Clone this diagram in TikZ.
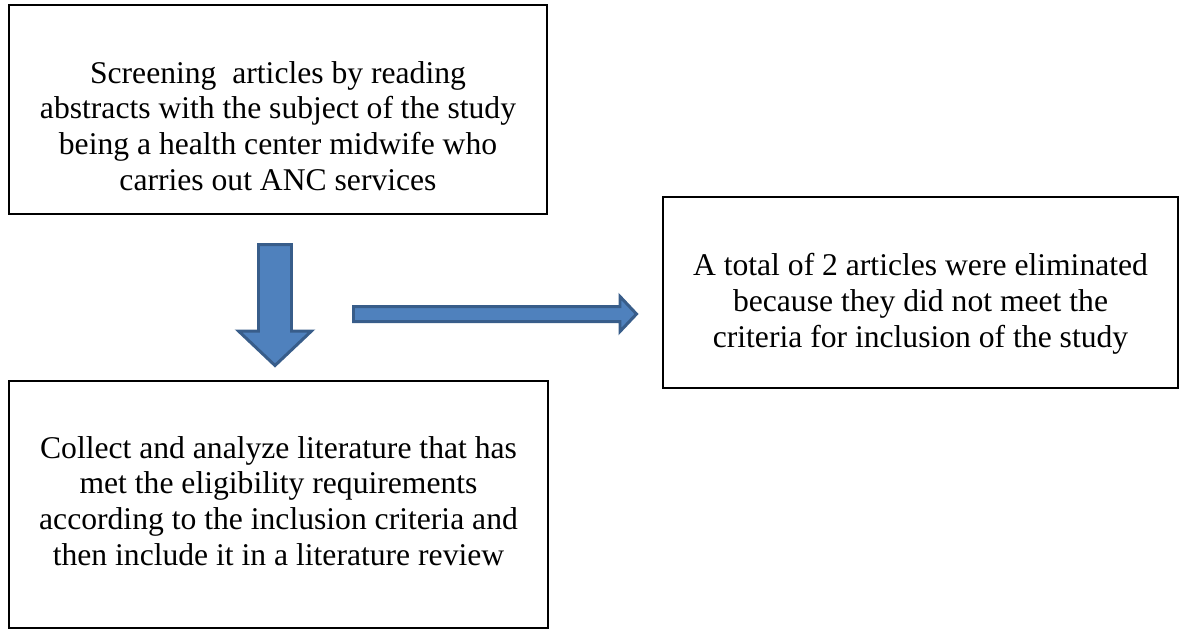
\documentclass[tikz,border=0pt]{standalone}
\usepackage{fontspec}
\setmainfont{Liberation Serif}
\usepackage{xcolor}
\definecolor{arrowfill}{HTML}{4F81BD}
\definecolor{arrowline}{HTML}{385D8A}

\tikzset{
  stepbox/.style={draw, line width=1.1pt, rectangle, inner sep=0pt},
  boxtext/.style={align=center, inner sep=0pt, anchor=base,
    font=\fontsize{18}{20.3}\selectfont},
  blockarrow/.style={fill=arrowfill, draw=arrowline, line width=1.7pt, line join=miter}
}

\begin{document}
\begin{tikzpicture}[x=0.02cm, y=-0.02cm]

    \useasboundingbox (0,0) rectangle (1181,630);

    \node[stepbox, minimum width=10.76cm, minimum height=4.18cm] (screen) at (278, 109.5) {};
    \node[stepbox, minimum width=10.78cm, minimum height=4.94cm] (collect) at (278.5, 504.5) {};
    \node[stepbox, minimum width=10.3cm, minimum height=3.82cm] (elim) at (920.5, 292.5) {};

    % texts sit on the baseline of their last line
    \node[boxtext] (screentext) at (278, 190) {Screening~ articles by reading\\
      abstracts with the subject of the study\\
      being a health center midwife who\\
      carries out ANC services};
    \node[boxtext] (collecttext) at (278.5, 565) {Collect and analyze literature that has\\
      met the eligibility requirements\\
      according to the inclusion criteria and\\
      then include it in a literature review};
    \node[boxtext] (elimtext) at (920.5, 347) {A total of 2 articles were eliminated\\
      because they did not meet the\\
      criteria for inclusion of the study};

    % block arrows
    \draw[blockarrow] (258.5,244.5) -- (291.5,244.5) -- (291.5,331) -- (311.5,331)
      -- (275,365.5) -- (238.5,331) -- (258.5,331) -- cycle;
    \draw[blockarrow] (353.5,306.5) -- (620,306.5) -- (620,296.5) -- (636.5,314)
      -- (620,331.5) -- (620,321.5) -- (353.5,321.5) -- cycle;

\end{tikzpicture}
\end{document}
